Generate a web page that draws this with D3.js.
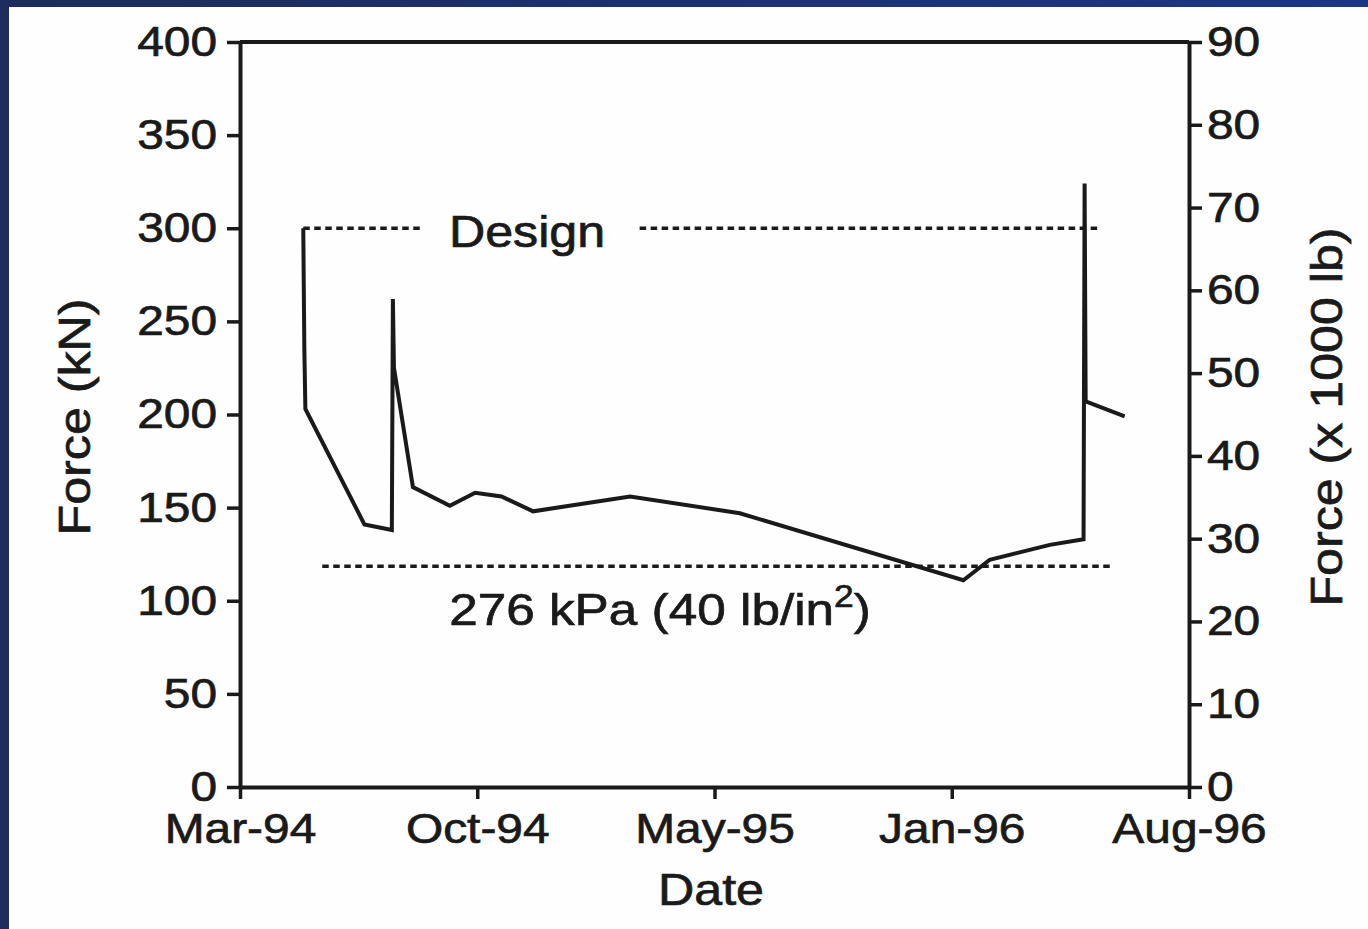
<!DOCTYPE html>
<html>
<head>
<meta charset="utf-8">
<script src="https://cdn.jsdelivr.net/npm/d3@7"></script>
<style>
body { margin: 0; background: #fff; overflow: hidden; }
svg text { font-family: "Liberation Sans", Arial, Helvetica, sans-serif; fill: #1a1a1a;
    stroke: #1a1a1a; stroke-width: 0.7px; }
/* the scanned lettering is wider than Arial */
.wide { transform-box: fill-box; transform: scaleX(1.14); }
</style>
</head>
<body>
<script>
// Strut force readings
var dates = ["1994-04-30", "1994-05-01", "1994-05-02", "1994-06-27", "1994-07-23",
    "1994-07-24", "1994-07-25", "1994-08-12", "1994-09-16", "1994-10-10",
    "1994-11-04", "1994-12-04", "1995-03-06", "1995-06-18", "1996-01-16",
    "1996-02-10", "1996-04-07", "1996-05-09", "1996-05-10", "1996-05-11",
    "1996-06-17"];
var forceKN = [300, 236, 203, 141, 138, 262, 225, 161, 151, 158, 156, 148, 156,
    147, 111, 122, 130, 133, 324, 207, 199];

// Reference lines
var designValue = 300;
var designFrom = ["1994-04-30", "1995-03-15"];
var designTo = ["1994-08-21", "1996-05-26"];
var pressureValue = 118.5;
var pressureFrom = "1994-05-18";
var pressureTo = "1996-06-05";

// Axis ticks
var dateTicks = ["1994-03-01", "1994-10-12", "1995-05-25", "1996-01-05", "1996-08-17"];
var kNTicks = [0, 50, 100, 150, 200, 250, 300, 350, 400];
var lbTicks = [0, 10, 20, 30, 40, 50, 60, 70, 80, 90];

var parseDate = d3.timeParse("%Y-%m-%d");
var formatDate = d3.timeFormat("%b-%y");
var ink = "#1a1a1a";

var w = 1368;
var h = 929;
var margin = {top: 42, left: 240};
var width = 949;
var height = 745;

var svg = d3.select("body").append("svg")
    .attr("width", w)
    .attr("height", h);

// Blue slide frame on the top and left
var grad = svg.append("defs").append("linearGradient")
    .attr("id", "frame")
    .attr("x1", "0%").attr("x2", "100%");
grad.append("stop").attr("offset", "0%").attr("stop-color", "#1e2b5c");
grad.append("stop").attr("offset", "100%").attr("stop-color", "#1b3684");

svg.append("rect").attr("width", w).attr("height", h).attr("fill", "#fefefe");
svg.append("rect").attr("width", w).attr("height", 7).attr("fill", "url(#frame)");
svg.append("rect").attr("width", 9).attr("height", h).attr("fill", "#1e2c5e");

// Scales
var x = d3.scaleTime()
    .domain([parseDate(dateTicks[0]), parseDate(dateTicks[dateTicks.length - 1])])
    .range([0, width]);
var yLeft = d3.scaleLinear().domain([0, 400]).range([height, 0]);
var yRight = d3.scaleLinear().domain([0, 90]).range([height, 0]);

var g = svg.append("g")
    .attr("transform", "translate(" + margin.left + "," + margin.top + ")");

// Axes
function styleAxis(sel, origin) {
    sel.attr("font-size", 42)
        .attr("font-family", null);
    sel.select(".domain").attr("stroke", ink).attr("stroke-width", 4);
    sel.selectAll(".tick line").attr("stroke", ink).attr("stroke-width", 3.5);
    sel.selectAll(".tick text")
        .attr("fill", ink)
        .attr("class", "wide")
        .style("transform-origin", origin);
}

g.append("g")
    .call(d3.axisLeft(yLeft).tickValues(kNTicks).tickSize(13).tickSizeOuter(0).tickPadding(10))
    .call(styleAxis, "right center");

g.append("g")
    .attr("transform", "translate(" + width + ",0)")
    .call(d3.axisRight(yRight).tickValues(lbTicks).tickSize(13).tickSizeOuter(0).tickPadding(5))
    .call(styleAxis, "left center");

g.append("g")
    .attr("transform", "translate(0," + height + ")")
    .call(d3.axisBottom(x).tickValues(dateTicks.map(parseDate)).tickFormat(formatDate)
        .tickSize(12).tickSizeOuter(0).tickPadding(14))
    .call(styleAxis, "center");

g.append("line")
    .attr("x1", 0).attr("x2", width)
    .attr("y1", 0).attr("y2", 0)
    .attr("stroke", ink)
    .attr("stroke-width", 4);

// Reference lines (dotted)
var designSegs = designFrom.map(function(d, i) {
    return [parseDate(d), parseDate(designTo[i])];
});

g.selectAll("line.design")
    .data(designSegs)
    .enter()
    .append("line")
    .attr("class", "design")
    .attr("x1", function(d) { return x(d[0]); })
    .attr("x2", function(d) { return x(d[1]); })
    .attr("y1", yLeft(designValue))
    .attr("y2", yLeft(designValue))
    .attr("stroke", ink)
    .attr("stroke-width", 3.5)
    .attr("stroke-dasharray", "6.5,4.5");

g.append("line")
    .attr("x1", x(parseDate(pressureFrom)))
    .attr("x2", x(parseDate(pressureTo)))
    .attr("y1", yLeft(pressureValue))
    .attr("y2", yLeft(pressureValue))
    .attr("stroke", ink)
    .attr("stroke-width", 3.5)
    .attr("stroke-dasharray", "6.5,4.5");

// Measured force line
var readings = dates.map(function(d, i) {
    return {date: parseDate(d), value: forceKN[i]};
});

var line = d3.line()
    .x(function(d) { return x(d.date); })
    .y(function(d) { return yLeft(d.value); });

g.append("path")
    .datum(readings)
    .attr("d", line)
    .attr("fill", "none")
    .attr("stroke", ink)
    .attr("stroke-width", 4)
    .attr("stroke-linejoin", "miter");

// Annotations
g.append("text")
    .attr("class", "wide")
    .style("transform-origin", "center")
    .attr("x", (x(designSegs[0][1]) + x(designSegs[1][0])) / 2 - 4)
    .attr("y", yLeft(designValue) + 19)
    .attr("text-anchor", "middle")
    .attr("font-size", 44)
    .text("Design");

var pLabel = g.append("text")
    .attr("class", "wide")
    .style("transform-origin", "center")
    .attr("x", 420)
    .attr("y", yLeft(pressureValue) + 59)
    .attr("text-anchor", "middle")
    .attr("font-size", 45);
pLabel.append("tspan").text("276 kPa (40 lb/in");
pLabel.append("tspan").attr("font-size", 31).attr("dy", -18).text("2");
pLabel.append("tspan").attr("dy", 18).text(")");

// Axis titles
svg.append("text")
    .attr("class", "wide")
    .style("transform-origin", "center")
    .attr("x", 711)
    .attr("y", 905)
    .attr("text-anchor", "middle")
    .attr("font-size", 44)
    .text("Date");

svg.append("g")
    .attr("transform", "translate(75,417) rotate(-90)")
    .append("text")
    .attr("class", "wide")
    .style("transform-origin", "center")
    .attr("text-anchor", "middle")
    .attr("dy", "0.35em")
    .attr("font-size", 44)
    .text("Force (kN)");

svg.append("g")
    .attr("transform", "translate(1327,417) rotate(-90)")
    .append("text")
    .attr("class", "wide")
    .style("transform-origin", "center")
    .attr("text-anchor", "middle")
    .attr("dy", "0.35em")
    .attr("font-size", 44)
    .text("Force (x 1000 lb)");
</script>
</body>
</html>
